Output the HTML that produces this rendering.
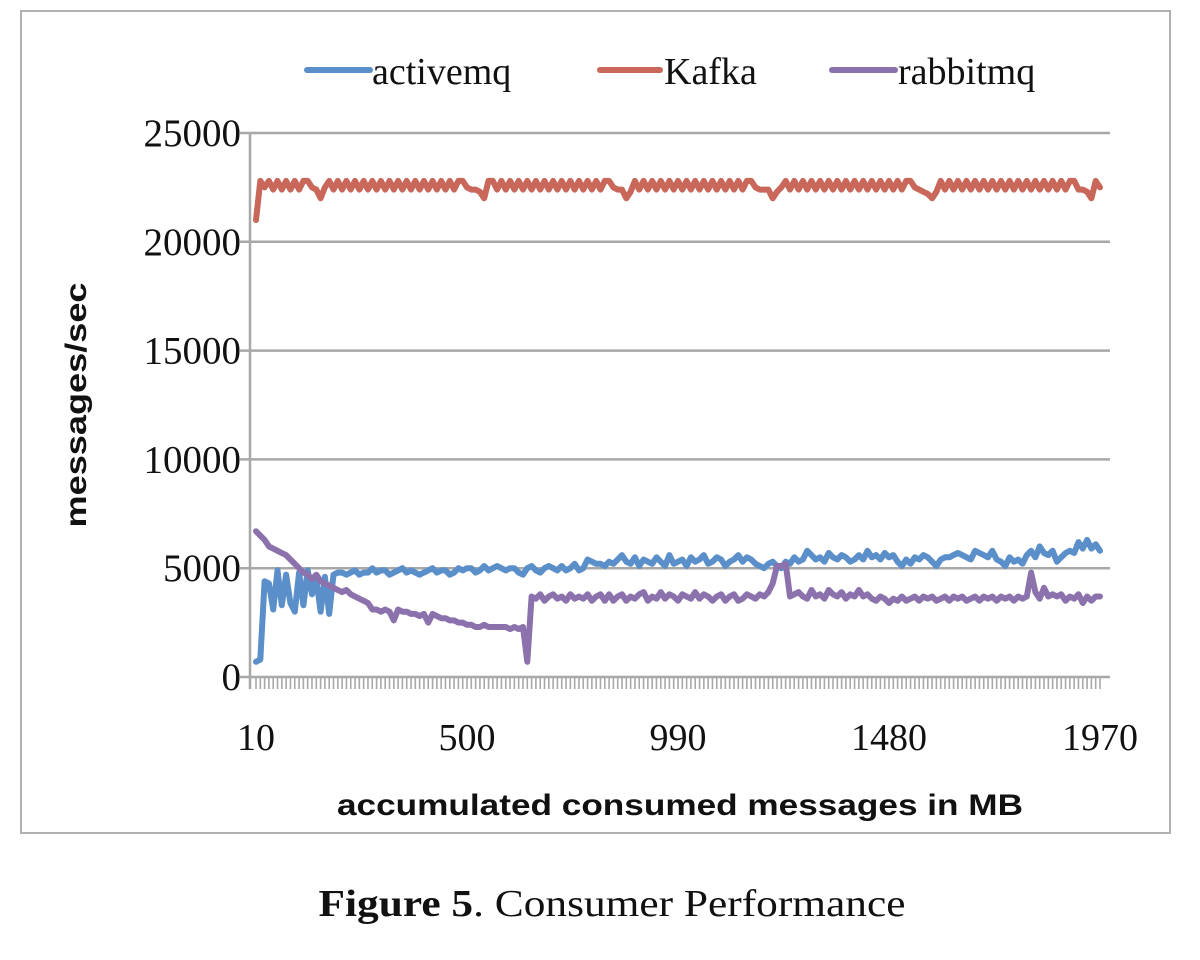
<!DOCTYPE html>
<html><head><meta charset="utf-8"><style>
html,body{margin:0;padding:0;background:#fff;}
svg{display:block;}
</style></head><body>
<svg id="chart" width="1200" height="960" xmlns="http://www.w3.org/2000/svg">
<rect x="21" y="11" width="1149" height="822" fill="#fff" stroke="#b0b0b0" stroke-width="2"/>
<g id="grid"></g>
<g id="yticks"></g>
<g id="xticks"></g>
<g id="series"></g>
<g font-family="Liberation Serif, serif" font-size="38" fill="#111">
  <g><line x1="307" y1="70" x2="370" y2="70" stroke="#5b8fc9" stroke-width="6" stroke-linecap="round"/><text x="372" y="84">activemq</text></g>
  <g><line x1="600" y1="70" x2="660" y2="70" stroke="#c8675a" stroke-width="6" stroke-linecap="round"/><text x="664" y="84">Kafka</text></g>
  <g><line x1="832" y1="70" x2="895" y2="70" stroke="#8c72ad" stroke-width="6" stroke-linecap="round"/><text x="898" y="84">rabbitmq</text></g>
</g>
<text x="0" y="0" transform="translate(86,405) rotate(-90)" text-anchor="middle" font-family="Liberation Sans, sans-serif" font-weight="bold" font-size="30" textLength="245" lengthAdjust="spacingAndGlyphs" fill="#111">messages/sec</text>
<text x="680" y="815" text-anchor="middle" font-family="Liberation Sans, sans-serif" font-weight="bold" font-size="30" textLength="686" lengthAdjust="spacingAndGlyphs" fill="#111">accumulated consumed messages in MB</text>
<text x="612" y="916" text-anchor="middle" font-family="Liberation Serif, serif" font-size="38" textLength="587" lengthAdjust="spacingAndGlyphs" fill="#111"><tspan font-weight="bold">Figure 5</tspan>. Consumer Performance</text>
</svg>
<script>
const yTicks=[0,5000,10000,15000,20000,25000];
const xLabels=["10","500","990","1480","1970"];
const categories=[];for(let v=10;v<=1970;v+=10)categories.push(v);
const kafka=[
21000,22800,22500,22800,22400,22800,22400,22800,22400,22800,
22400,22800,22800,22500,22400,22000,22500,22800,22400,22800,
22400,22800,22400,22800,22400,22800,22400,22800,22400,22800,
22400,22800,22400,22800,22400,22800,22400,22800,22400,22800,
22400,22800,22400,22800,22400,22800,22400,22800,22800,22500,
22400,22400,22300,22000,22800,22800,22400,22800,22400,22800,
22400,22800,22400,22800,22400,22800,22400,22800,22400,22800,
22400,22800,22400,22800,22400,22800,22400,22800,22400,22800,
22400,22800,22800,22500,22400,22400,22000,22300,22800,22400,
22800,22400,22800,22400,22800,22400,22800,22400,22800,22400,
22800,22400,22800,22400,22800,22400,22800,22400,22800,22400,
22800,22400,22800,22400,22800,22800,22500,22400,22400,22400,
22000,22300,22500,22800,22400,22800,22400,22800,22400,22800,
22400,22800,22400,22800,22400,22800,22400,22800,22400,22800,
22400,22800,22400,22800,22400,22800,22400,22800,22400,22800,
22400,22800,22800,22500,22400,22300,22200,22000,22300,22800,
22400,22800,22400,22800,22400,22800,22400,22800,22400,22800,
22400,22800,22400,22800,22400,22800,22400,22800,22400,22800,
22400,22800,22400,22800,22400,22800,22400,22800,22400,22800,
22800,22400,22400,22300,22000,22800,22500];
const activemq=[
700,800,4400,4300,3100,4900,3300,4700,3400,3000,
4800,3300,4900,3800,4500,3000,4600,2900,4700,4800,
4800,4700,4800,4900,4700,4800,4800,5000,4800,4900,
4900,4700,4800,4900,5000,4800,4900,4800,4700,4800,
4900,5000,4800,4900,4900,4700,4800,5000,4900,5000,
5000,4800,4900,5100,4900,5000,5100,5000,4900,5000,
5000,4800,4700,5000,5100,4900,4800,5000,5100,5000,
4900,5100,4900,5000,5200,4900,5000,5400,5300,5200,
5200,5100,5300,5200,5400,5600,5300,5200,5500,5100,
5400,5300,5200,5500,5300,5100,5600,5200,5300,5400,
5100,5500,5300,5400,5600,5200,5300,5500,5400,5100,
5300,5400,5600,5300,5500,5400,5200,5100,5000,5200,
5300,5100,5000,5300,5200,5500,5300,5400,5800,5600,
5400,5500,5300,5700,5500,5400,5600,5500,5300,5400,
5600,5400,5800,5500,5600,5400,5700,5500,5600,5300,
5100,5400,5200,5500,5400,5600,5500,5300,5100,5400,
5500,5500,5600,5700,5600,5500,5400,5800,5700,5600,
5500,5800,5400,5300,5100,5500,5300,5400,5200,5600,
5800,5500,6000,5700,5600,5800,5300,5500,5700,5800,
5700,6200,5900,6300,5900,6100,5800];
const rabbitmq=[
6700,6500,6300,6000,5900,5800,5700,5600,5400,5200,
5000,4800,4700,4500,4700,4400,4300,4200,4100,4000,
3900,4000,3800,3700,3600,3500,3400,3100,3100,3000,
3100,3000,2600,3100,3000,3000,2900,2900,2800,2900,
2500,2900,2800,2700,2700,2600,2600,2500,2500,2400,
2400,2300,2300,2400,2300,2300,2300,2300,2300,2200,
2300,2200,2300,700,3700,3600,3800,3500,3700,3800,
3600,3700,3500,3800,3600,3700,3600,3800,3500,3700,
3800,3500,3800,3500,3700,3800,3500,3700,3600,3800,
3900,3500,3700,3600,3900,3600,3800,3700,3500,3800,
3700,3600,3900,3600,3800,3700,3500,3700,3800,3500,
3700,3800,3500,3600,3800,3700,3600,3800,3700,3900,
4300,5100,5100,5200,3700,3800,3900,3700,3600,4000,
3700,3800,3600,4000,3800,3700,3900,3600,3800,3700,
4000,3700,3800,3600,3500,3700,3600,3400,3600,3500,
3700,3500,3600,3700,3500,3700,3600,3700,3500,3600,
3700,3500,3700,3600,3700,3500,3600,3700,3500,3700,
3600,3700,3500,3700,3600,3700,3500,3700,3600,3700,
4800,3900,3600,4100,3700,3800,3700,3800,3500,3700,
3600,3800,3400,3700,3500,3700,3700];

const NS="http://www.w3.org/2000/svg";
const X0=256,X1=1100,Y0=677,Y1=133,PL=250,PR=1110;
const yScale=v=>Y0-(v-0)/(25000-0)*(Y0-Y1);
const xScale=i=>X0+i*(X1-X0)/(categories.length-1);
function mk(tag,attrs,parent){const e=document.createElementNS(NS,tag);for(const k in attrs)e.setAttribute(k,attrs[k]);parent.appendChild(e);return e;}
const grid=document.getElementById('grid'),yt=document.getElementById('yticks'),xt=document.getElementById('xticks'),ser=document.getElementById('series');
yTicks.forEach(v=>{
  const l=mk('line',{x1:240,x2:PR,y1:yScale(v),y2:yScale(v),stroke:'#a8a8a8','stroke-width':2.5},grid);
  
  
  const t=mk('text',{x:241,y:yScale(v)+13,'text-anchor':'end','font-family':'Liberation Serif, serif','font-size':39,fill:'#111'},yt);
  t.textContent=String(v);
  
  
});
const ax=mk('line',{x1:PL,x2:PL,y1:Y1,y2:Y0+12,stroke:'#a8a8a8','stroke-width':2.5},grid);


categories.forEach((c,i)=>{
  const x=xScale(i);
  const tk=mk('line',{x1:x,x2:x,y1:Y0,y2:Y0+12,stroke:'#a8a8a8','stroke-width':1.6},xt);
  
  
  if(xLabels.includes(String(c))){
    const t=mk('text',{x:x,y:750,'text-anchor':'middle','font-family':'Liberation Serif, serif','font-size':38,fill:'#111'},xt);
    t.textContent=String(c);
    
    
  }
});
[[kafka,'#c8675a','kafka'],[activemq,'#5b8fc9','activemq'],[rabbitmq,'#8c72ad','rabbitmq']].forEach(([d,col,n])=>{
  const p=mk('polyline',{points:d.map((v,i)=>xScale(i).toFixed(1)+','+yScale(v).toFixed(1)).join(' '),fill:'none',stroke:col,'stroke-width':6,'stroke-linejoin':'round','stroke-linecap':'round'},ser);
  
  
});
</script>
</body></html>
